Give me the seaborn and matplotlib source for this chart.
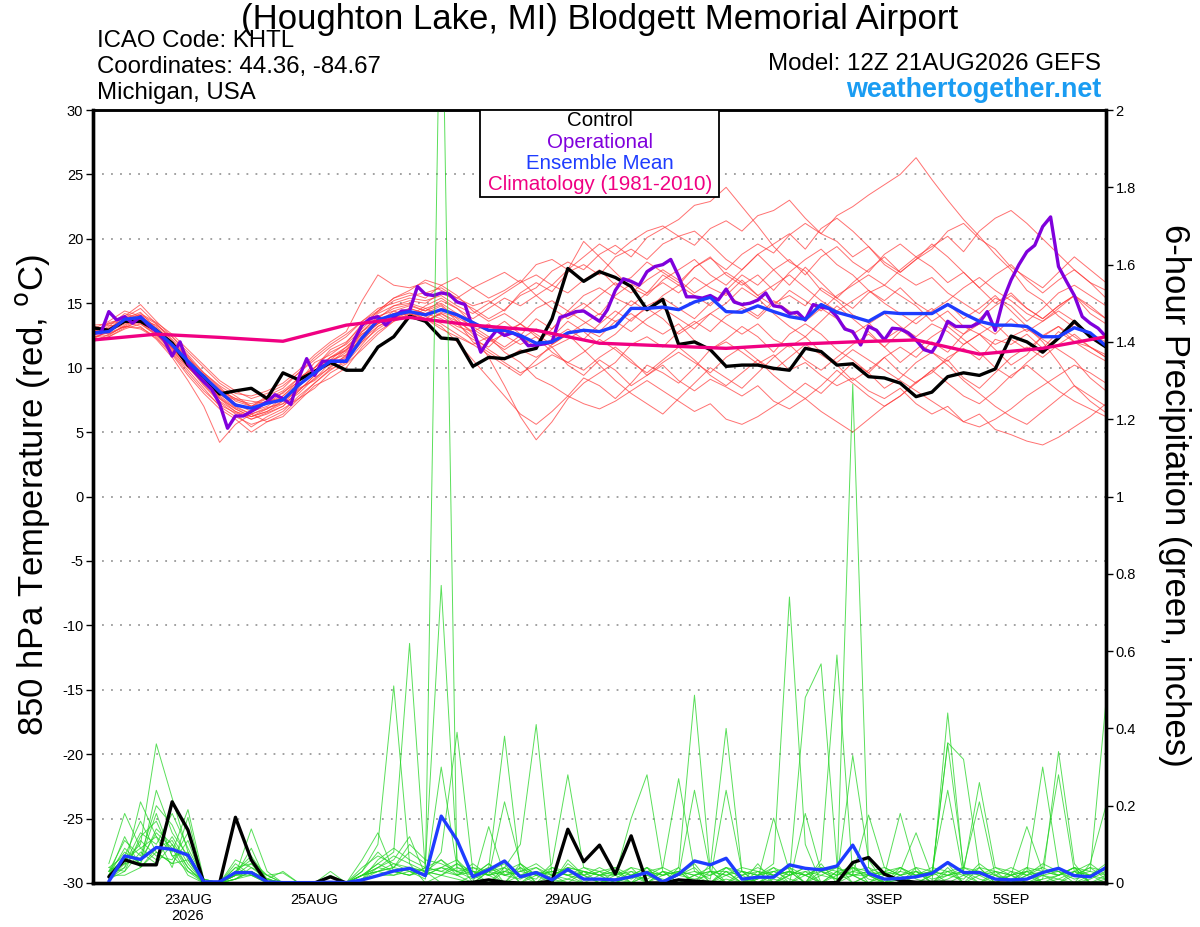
import numpy as np
import pandas as pd
import matplotlib
matplotlib.use("Agg")
import matplotlib.pyplot as plt
import seaborn as sns
from matplotlib.patches import Rectangle

# ---------------- data ----------------
title = "(Houghton Lake, MI) Blodgett Memorial Airport"
info_left = ["ICAO Code: KHTL", "Coordinates: 44.36, -84.67", "Michigan, USA"]
model_text = "Model: 12Z 21AUG2026 GEFS"
site_text = "weathertogether.net"

temp_start = "2026-08-21 12:00"   # 6-hourly temperature
op_start = "2026-08-21 12:00"     # 3-hourly operational run
precip_start = "2026-08-21 18:00" # 6-hourly precip totals
clim_start = "2026-08-21 12:00"   # daily climatology

tick_dates = ["2026-08-23", "2026-08-25", "2026-08-27", "2026-08-29",
              "2026-09-01", "2026-09-03", "2026-09-05"]
tick_labels = ["23AUG\n2026", "25AUG", "27AUG", "29AUG", "1SEP", "3SEP", "5SEP"]

control_temp = [13.1, 12.9, 13.6, 13.6, 12.9, 11.9, 10.2, 9.3, 7.96, 8.2, 8.4, 7.6, 9.6, 9.05, 9.7, 10.4,
                9.8, 9.8, 11.6, 12.4, 14.0, 13.6, 12.3, 12.2, 10.1, 10.8, 10.7, 11.2, 11.5, 13.8, 17.7,
                16.7, 17.45, 17.0, 16.3, 14.5, 15.3, 11.8, 12.0, 11.4, 10.1, 10.2, 10.2, 9.95, 9.8, 11.5,
                11.25, 10.2, 10.3, 9.3, 9.2, 8.8, 7.75, 8.1, 9.3, 9.6, 9.4, 9.9, 12.45, 12.0, 11.2, 12.3,
                13.6, 12.4, 11.6]

mean_temp = [12.7, 12.8, 13.75, 13.9, 12.9, 11.76, 10.5, 9.3, 8.14, 7.1, 6.85, 7.24, 7.5, 8.66, 9.6, 10.5,
             10.5, 12.3, 13.7, 14.1, 14.35, 14.1, 14.5, 14.1, 13.5, 12.9, 12.9, 12.5, 11.9, 12.0, 12.7,
             12.9, 12.8, 13.2, 14.6, 14.6, 14.7, 14.5, 15.1, 15.46, 14.35, 14.3, 14.8, 14.35, 13.96,
             13.75, 14.9, 14.3, 13.96, 13.6, 14.3, 14.2, 14.2, 14.2, 14.9, 14.2, 13.6, 13.3, 13.3, 13.2,
             12.4, 12.4, 13.1, 12.7, 11.7]

oper_temp = [12.7, 12.7, 14.35, 13.7, 13.96, 13.45, 13.96, 13.3, 12.8, 12.15, 10.9, 12.0, 10.3, 9.55,
             8.9, 8.3, 7.2, 5.3, 6.25, 6.25, 6.6, 6.97, 7.36, 7.9, 7.6, 7.15, 9.2, 10.7, 9.4, 10.5, 10.5,
             10.5, 10.5, 12.15, 13.3, 13.8, 13.96, 13.3, 13.9, 14.4, 14.4, 16.3, 15.7, 15.6, 15.8, 15.7,
             15.1, 14.9, 13.06, 11.2, 12.15, 12.9, 12.5, 12.7, 12.4, 11.7, 11.76, 11.84, 12.0, 13.9, 14.1,
             14.35, 14.4, 14.0, 13.6, 14.5, 16.0, 16.9, 16.7, 16.4, 17.45, 17.85, 18.0, 18.4, 17.1, 15.5,
             15.5, 15.4, 15.6, 15.25, 16.1, 15.1, 14.9, 15.0, 15.25, 15.8, 14.8, 14.7, 14.2, 14.3, 13.7,
             14.9, 14.7, 14.6, 13.96, 13.0, 12.8, 11.76, 13.2, 12.9, 12.15, 13.06, 13.0, 12.7, 12.15,
             11.4, 11.2, 12.15, 13.6, 13.2, 13.2, 13.2, 13.5, 14.35, 12.9, 15.25, 16.8, 18.0, 19.0, 19.5,
             20.95, 21.7, 17.85, 16.7, 15.6, 13.96, 13.45, 13.06, 12.4]

clim_temp = [12.15, 12.6, 12.35, 12.05, 13.3, 13.9, 13.3, 12.9, 11.9, 11.7, 11.5, 11.8, 12.0, 12.15,
             11.05, 11.5, 12.4]

# ensemble members, 850 hPa temperature (deg C), 6-hourly
mem01 = [12.5, 13.0, 13.5, 14.0, 13.2, 12.0, 10.8, 9.6, 8.5, 7.4, 7.0, 7.6, 8.0, 9.2, 10.0, 11.2, 11.8, 13.0, 14.2, 14.8, 15.2,
         15.0, 15.8, 15.2, 14.6, 13.8, 14.5, 15.6, 16.2, 17.5, 18.2, 17.6, 18.8, 19.5, 18.6, 20.1, 20.8, 21.5, 22.6, 22.9, 24.0,
         22.5, 21.0, 19.4, 18.2, 17.5, 16.0, 15.2, 14.1, 13.5, 12.2, 13.0, 12.0, 11.2, 10.5, 11.8, 12.6, 11.4, 10.2, 11.0, 12.5, 13.2, 12.0, 11.2, 10.5]
mem02 = [13.0, 12.6, 13.2, 13.8, 13.0, 11.5, 10.2, 9.0, 7.8, 6.9, 6.4, 6.8, 7.4, 8.5, 9.8, 10.8, 11.3, 12.6, 13.5, 14.4, 14.0,
         13.6, 14.3, 13.9, 13.2, 12.4, 11.6, 12.5, 13.8, 13.0, 14.2, 15.0, 14.1, 15.6, 16.5, 15.8, 17.2, 16.4, 17.8, 18.5, 17.6,
         18.8, 19.6, 18.9, 20.3, 21.2, 20.4, 21.8, 22.5, 23.4, 24.2, 25.0, 26.3, 24.6, 23.0, 21.5, 20.2, 18.8, 17.6, 16.0, 15.2, 14.0, 13.1, 12.5, 11.8]
mem03 = [12.2, 12.9, 13.6, 13.5, 12.6, 11.2, 9.8, 8.4, 7.0, 6.2, 5.6, 6.0, 6.6, 7.8, 8.8, 9.9, 10.4, 11.8, 13.2, 13.8, 14.6,
         14.2, 14.8, 13.6, 12.0, 11.2, 10.4, 9.6, 10.2, 11.0, 10.4, 9.8, 10.8, 11.6, 10.6, 9.4, 10.2, 9.0, 8.2, 9.1, 8.5,
         7.8, 8.6, 7.4, 6.8, 7.6, 6.6, 5.8, 5.0, 6.0, 7.0, 7.8, 8.9, 9.6, 10.8, 11.5, 10.6, 12.2, 11.8, 12.6, 11.5, 12.8, 12.0, 11.6, 10.8]
mem04 = [12.6, 13.2, 14.2, 13.8, 13.1, 11.8, 10.4, 9.1, 8.0, 7.0, 6.4, 6.9, 7.2, 8.4, 9.0, 10.1, 10.8, 12.4, 13.4, 14.0, 13.8,
         14.6, 14.0, 13.2, 12.8, 13.4, 12.5, 11.8, 12.4, 11.6, 12.2, 13.0, 12.4, 13.6, 14.2, 13.3, 12.6, 13.4, 12.1, 11.4, 12.0,
         11.2, 10.3, 11.0, 9.8, 10.4, 9.4, 8.6, 9.2, 8.2, 7.6, 8.4, 7.2, 6.4, 7.0, 5.8, 6.4, 5.2, 4.8, 4.3, 4.0, 4.6, 5.4, 6.2, 7.2]
mem05 = [12.4, 12.5, 13.3, 13.9, 12.7, 11.9, 10.6, 9.4, 8.3, 7.6, 7.4, 7.2, 8.1, 8.9, 10.4, 11.0, 11.9, 13.4, 14.3, 15.2, 15.6,
         15.8, 16.2, 15.4, 14.8, 15.2, 14.4, 15.8, 16.6, 15.9, 17.4, 18.0, 17.2, 18.6, 19.2, 18.4, 19.6, 20.2, 19.5, 20.8, 21.4,
         20.6, 21.8, 22.2, 23.0, 21.6, 20.4, 19.8, 18.6, 19.4, 18.0, 17.2, 16.4, 17.0, 15.8, 15.0, 14.2, 15.4, 14.8, 13.6, 14.6, 15.8, 16.4, 15.6, 14.8]
mem06 = [13.1, 12.7, 13.9, 14.1, 13.4, 12.2, 10.9, 9.2, 7.6, 6.6, 6.0, 6.5, 7.0, 8.2, 9.4, 10.6, 11.0, 12.8, 13.9, 14.6, 14.9,
         14.4, 14.9, 13.8, 12.6, 10.8, 8.6, 6.2, 4.4, 5.8, 7.6, 8.8, 9.6, 10.4, 11.8, 12.4, 11.6, 12.8, 13.6, 12.8, 14.0,
         14.6, 13.8, 15.0, 15.6, 14.8, 16.2, 15.4, 14.6, 15.8, 16.4, 15.6, 14.8, 13.6, 14.4, 13.2, 12.6, 11.8, 12.4, 13.0, 12.2, 11.4, 10.6, 9.2, 8.2]
mem07 = [12.8, 13.4, 13.6, 13.2, 12.2, 10.8, 9.0, 7.0, 4.2, 5.6, 6.4, 5.8, 6.2, 7.4, 8.6, 9.2, 10.0, 11.6, 12.8, 13.6, 14.2,
         13.8, 14.6, 14.2, 13.6, 12.8, 13.6, 12.6, 11.8, 13.0, 14.4, 13.6, 12.8, 14.0, 15.2, 14.4, 15.6, 16.4, 15.6, 14.8, 16.0,
         17.2, 16.4, 17.6, 18.4, 17.2, 18.6, 19.4, 18.2, 17.4, 18.8, 19.6, 18.6, 17.8, 16.6, 17.4, 16.2, 15.0, 15.8, 14.6, 13.8, 14.8, 15.6, 14.2, 13.4]
mem08 = [12.3, 12.8, 13.4, 13.6, 12.8, 11.4, 10.0, 8.8, 7.9, 7.2, 6.6, 7.0, 7.8, 8.8, 9.6, 10.8, 11.6, 12.6, 13.4, 14.2, 14.4,
         14.0, 13.4, 12.6, 11.8, 12.4, 11.2, 10.4, 9.2, 8.6, 7.8, 7.2, 6.8, 7.4, 8.2, 9.0, 8.2, 7.4, 6.6, 7.2, 6.0,
         5.6, 6.2, 7.0, 7.8, 8.8, 8.0, 9.2, 10.4, 9.6, 10.8, 11.6, 10.8, 12.0, 11.2, 12.6, 13.4, 12.6, 13.8, 12.8, 13.6, 14.4, 13.6, 12.6, 12.0]
mem09 = [13.2, 13.0, 14.0, 14.9, 13.6, 12.4, 11.2, 10.0, 8.8, 8.0, 7.8, 8.2, 8.8, 9.8, 11.0, 12.0, 12.8, 15.2, 17.2, 16.4, 16.2,
         16.6, 16.0, 15.4, 16.2, 16.8, 17.4, 16.6, 18.0, 18.4, 17.6, 19.8, 18.6, 17.4, 16.2, 15.6, 16.8, 17.6, 18.4, 17.2, 16.4,
         17.6, 18.8, 19.6, 20.4, 19.2, 20.8, 21.6, 20.6, 19.4, 18.2, 17.4, 18.4, 19.2, 20.6, 21.2, 20.0, 19.2, 17.8, 17.0, 16.2, 17.4, 18.6, 17.6, 16.6]
mem10 = [12.9, 13.3, 13.1, 13.7, 13.3, 12.4, 11.0, 9.6, 8.6, 7.8, 7.0, 7.4, 7.6, 8.6, 9.8, 10.2, 10.9, 12.0, 13.6, 14.2, 14.6,
         14.2, 13.8, 13.0, 12.2, 11.6, 12.8, 13.4, 12.6, 11.8, 12.6, 13.4, 14.2, 13.6, 12.8, 13.8, 14.6, 13.8, 13.0, 14.2, 13.4,
         12.6, 13.4, 12.2, 11.6, 12.4, 11.2, 10.4, 11.4, 10.6, 9.8, 9.0, 8.2, 7.4, 6.6, 5.8, 5.4, 6.0, 6.8, 7.8, 8.6, 9.4, 10.2, 9.6, 8.8]
mem11 = [12.1, 12.4, 13.0, 13.4, 12.5, 11.6, 10.3, 9.0, 7.7, 6.8, 6.2, 6.6, 7.4, 8.3, 9.1, 10.4, 11.2, 12.2, 13.2, 13.9, 14.0,
         14.8, 15.4, 14.6, 13.8, 14.6, 15.4, 14.8, 15.6, 16.4, 15.8, 16.8, 17.6, 16.4, 17.0, 18.2, 17.4, 16.6, 17.8, 18.6, 17.2,
         16.4, 17.2, 16.0, 17.4, 18.4, 19.2, 18.0, 17.2, 16.0, 15.2, 16.2, 15.0, 14.2, 15.0, 13.8, 14.6, 15.6, 14.4, 13.2, 12.0, 10.4, 8.6, 7.4, 6.5]
mem12 = [12.7, 13.5, 13.8, 13.6, 12.9, 11.7, 10.1, 8.6, 7.3, 6.4, 5.4, 6.2, 6.8, 7.6, 8.4, 9.6, 10.3, 11.4, 12.6, 13.6, 14.0,
         13.6, 14.2, 13.4, 12.4, 11.4, 10.6, 11.4, 10.8, 11.6, 10.2, 9.4, 10.6, 9.8, 8.6, 9.4, 10.4, 11.2, 10.4, 9.6, 10.8,
         11.6, 10.6, 9.8, 10.8, 11.8, 11.0, 10.2, 9.0, 9.8, 10.8, 9.6, 8.8, 9.8, 10.6, 9.2, 8.4, 9.6, 10.8, 11.6, 10.8, 11.8, 12.6, 11.6, 10.8]
mem13 = [13.0, 12.9, 13.5, 14.2, 13.5, 12.6, 11.4, 10.2, 9.0, 8.2, 7.6, 8.0, 8.6, 9.6, 10.6, 11.6, 12.4, 13.6, 14.6, 15.0, 15.4,
         15.2, 15.6, 14.8, 14.2, 15.0, 15.8, 16.6, 17.2, 16.4, 17.6, 18.6, 19.6, 18.8, 19.8, 20.6, 21.0, 20.2, 20.6, 19.6, 18.4,
         17.6, 18.8, 17.6, 16.4, 17.8, 16.6, 15.4, 16.6, 17.6, 18.6, 17.4, 18.4, 19.6, 18.6, 17.4, 16.2, 17.2, 18.0, 16.8, 15.8, 16.8, 17.6, 16.6, 15.4]
mem14 = [12.5, 13.1, 13.7, 13.4, 12.6, 11.3, 10.0, 8.9, 8.0, 7.5, 7.2, 7.6, 8.2, 9.2, 10.0, 10.8, 11.4, 12.8, 14.0, 14.4, 14.8,
         14.4, 15.2, 14.6, 13.4, 12.8, 13.2, 12.4, 11.6, 12.2, 13.0, 12.2, 13.4, 14.4, 13.6, 14.8, 15.4, 14.6, 13.8, 15.0, 15.8,
         14.8, 14.0, 15.2, 14.4, 13.6, 14.6, 13.8, 12.6, 13.4, 14.2, 13.2, 12.4, 13.4, 12.8, 11.8, 12.6, 13.4, 12.2, 11.4, 12.4, 13.2, 12.4, 11.6, 11.0]
mem15 = [12.0, 12.6, 13.2, 13.0, 12.3, 11.0, 9.4, 8.0, 6.8, 6.0, 5.0, 5.8, 6.4, 7.6, 8.8, 9.8, 10.6, 12.0, 13.0, 13.8, 14.3,
         13.8, 13.2, 12.0, 10.6, 9.2, 7.8, 6.4, 5.6, 6.6, 7.8, 9.2, 8.6, 7.6, 8.8, 10.2, 9.6, 8.8, 10.0, 11.4, 12.2,
         13.2, 12.4, 11.2, 12.6, 13.4, 12.6, 11.4, 10.6, 9.6, 8.4, 9.2, 10.4, 11.2, 10.2, 9.0, 8.0, 7.0, 6.2, 5.6, 6.6, 7.6, 8.6, 7.8, 7.0]
mem16 = [13.3, 13.4, 13.9, 14.6, 13.4, 12.1, 10.7, 9.5, 8.4, 7.2, 6.8, 7.3, 7.8, 9.0, 10.0, 11.4, 12.0, 13.2, 14.4, 15.4, 15.8,
         15.4, 16.4, 15.6, 14.4, 13.6, 14.2, 13.4, 14.6, 15.2, 14.4, 15.6, 16.2, 15.4, 14.8, 15.8, 16.6, 15.8, 17.0, 16.2, 15.6,
         16.8, 15.6, 14.8, 16.0, 15.2, 14.4, 15.6, 16.4, 17.2, 16.4, 17.6, 18.6, 19.4, 20.2, 19.0, 20.6, 21.6, 22.2, 21.2, 20.0, 18.8, 17.6, 16.6, 16.0]
mem17 = [12.6, 13.0, 13.8, 14.3, 13.0, 11.6, 10.4, 9.0, 7.6, 6.8, 6.2, 6.6, 7.2, 8.0, 9.2, 10.0, 11.0, 12.4, 13.8, 14.8, 15.0,
         14.6, 15.0, 14.2, 13.0, 12.2, 11.4, 12.2, 13.0, 12.4, 13.6, 12.8, 11.8, 12.6, 13.8, 14.6, 13.8, 12.6, 13.4, 14.2, 15.0,
         16.2, 15.4, 14.2, 13.2, 12.4, 13.6, 14.8, 13.8, 12.8, 11.6, 12.8, 13.8, 14.6, 13.4, 12.6, 13.8, 14.8, 15.6, 14.6, 13.8, 14.8, 15.6, 14.6, 13.8]
mem18 = [12.4, 12.7, 13.2, 13.1, 12.4, 11.1, 9.6, 8.2, 7.1, 6.5, 6.0, 6.4, 7.0, 8.2, 9.4, 10.6, 11.6, 12.8, 13.6, 14.2, 14.4,
         13.8, 13.0, 12.4, 11.8, 11.0, 10.2, 9.4, 10.6, 11.8, 12.6, 11.4, 10.2, 9.0, 8.0, 7.2, 6.4, 7.6, 8.8, 10.0, 9.2,
         8.4, 9.6, 10.8, 11.8, 10.6, 9.8, 10.8, 11.8, 12.6, 11.6, 10.4, 11.4, 12.4, 13.2, 12.2, 11.2, 10.0, 9.2, 10.4, 11.4, 12.4, 13.4, 12.6, 11.6]
mem19 = [13.0, 13.6, 14.4, 14.0, 13.0, 11.9, 10.5, 9.3, 8.2, 7.6, 7.0, 7.8, 8.4, 9.6, 10.8, 11.8, 12.6, 13.6, 14.4, 15.4, 16.0,
         16.8, 16.4, 17.0, 16.2, 15.4, 16.0, 16.8, 15.6, 14.6, 13.8, 14.6, 15.6, 16.6, 15.8, 16.8, 17.6, 16.8, 15.8, 16.6, 17.4,
         16.6, 15.6, 16.4, 17.2, 16.2, 15.2, 14.4, 15.2, 16.0, 15.0, 14.2, 13.4, 14.4, 15.2, 16.2, 17.0, 16.0, 15.2, 14.2, 13.6, 14.6, 15.6, 14.8, 13.8]
mem20 = [12.2, 12.4, 13.1, 13.6, 12.9, 11.5, 10.2, 8.7, 7.4, 6.6, 6.2, 6.8, 7.6, 8.6, 9.6, 10.4, 11.4, 12.4, 13.4, 14.0, 14.2,
         13.6, 14.2, 13.6, 12.8, 12.0, 12.6, 13.4, 12.4, 11.2, 10.4, 11.2, 12.2, 11.4, 10.4, 9.6, 10.6, 11.6, 10.6, 9.4, 8.6,
         9.6, 10.6, 9.4, 8.4, 7.6, 8.6, 9.8, 8.8, 7.8, 7.0, 7.8, 8.8, 9.8, 8.8, 7.8, 7.2, 8.2, 9.4, 10.2, 9.2, 8.2, 7.4, 6.8, 6.2]

# 6-hour precipitation (inches)
control_precip = [0.016, 0.06, 0.047, 0.047, 0.21, 0.137, 0, 0, 0.17, 0.06, 0, 0, 0, 0, 0.016, 0,
                  0, 0, 0, 0, 0, 0, 0, 0.002, 0.008, 0.002, 0, 0, 0.005, 0.139, 0.055, 0.098,
                  0.023, 0.122, 0, 0, 0.008, 0.005, 0.002, 0, 0, 0, 0, 0, 0, 0, 0.001, 0.053,
                  0.066, 0.023, 0.006, 0.002, 0.002, 0.002, 0.001, 0, 0, 0, 0, 0, 0, 0, 0, 0]
mean_precip = [0.004, 0.07, 0.061, 0.092, 0.087, 0.072, 0.003, 0.003, 0.027, 0.027, 0.003, 0.001, 0.001,
               0.001, 0.002, 0.001, 0.008, 0.019, 0.031, 0.038, 0.019, 0.173, 0.111, 0.016, 0.034, 0.057,
               0.016, 0.027, 0.008, 0.035, 0.01, 0.01, 0.008, 0.016, 0.027, 0.003, 0.023, 0.057, 0.047,
               0.064, 0.01, 0.015, 0.015, 0.047, 0.038, 0.034, 0.044, 0.098, 0.025, 0.01, 0.012, 0.016,
               0.025, 0.053, 0.027, 0.027, 0.01, 0.008, 0.01, 0.027, 0.038, 0.019, 0.016, 0.04]

pm01 = [.02, .06, .10, .36, .22, .08, 0, 0, .04, .02, 0, 0, 0, 0, 0, 0, .03, .10, .51, .05, 0, .02, .01, 0,
        .03, 0, .05, 0, .02, 0, 0, 0, .01, 0, 0, .03, 0, 0, .05, 0, 0, .02, .05, .74, .10, 0, .02, .05,
        0, 0, .01, 0, 0, .03, 0, 0, .02, 0, 0, .01, .34, .05, 0, .02]
pm02 = [.01, .04, .21, .12, .08, .19, .01, 0, .02, .14, .03, 0, 0, 0, 0, 0, .02, .05, .08, .62, .03, 0, 0, .02,
        0, .04, 0, .03, 0, .01, 0, .02, 0, 0, .04, 0, .03, 0, 0, .04, .01, 0, 0, .02, .48, .567, .05, 0,
        .02, 0, 0, .04, 0, .01, .03, 0, 0, .02, 0, 0, .02, .04, 0, .01]
pm03 = [.03, .08, .05, .14, .10, .04, 0, 0, .01, .03, 0, 0, 0, 0, 0, 0, .01, .04, .06, .12, .02, 2.5, .02, .05,
        .02, 0, .04, 0, 0, .06, .02, 0, 0, .03, 0, 0, .02, .05, 0, 0, .03, 0, .01, 0, .03, 0, 0, .04,
        .01, 0, 0, .02, .03, 0, 0, .04, 0, 0, .02, 0, 0, .03, 0, 0]
pm04 = [.05, .18, .09, .06, .12, .05, 0, 0, .06, .04, .01, .03, 0, 0, 0, 0, .02, .03, .04, .08, .05, .77, .06, 0,
        .03, .05, 0, .02, 0, .04, 0, 0, .03, 0, .02, 0, .04, 0, 0, .02, 0, .05, 0, .03, 0, .06, .59, .02,
        0, .03, 0, 0, .02, .05, 0, 0, .03, 0, .04, 0, .01, 0, .05, .02]
pm05 = [.02, .07, .16, .08, .05, .11, 0, 0, .03, .06, .02, 0, 0, 0, .03, 0, .04, .07, .05, .03, .01, .30, .04, .02,
        .05, 0, .02, .04, .01, 0, .03, 0, 0, .02, 0, .03, 0, .02, .03, 0, 0, .01, .04, 0, .02, 0, 0, 1.29,
        .04, 0, 0, .03, 0, 0, .02, 0, 0, .03, 0, .02, 0, 0, .02, 0]
pm06 = [.04, .03, .12, .16, .07, .03, .01, 0, .02, .09, 0, 0, 0, 0, 0, 0, .06, .13, .03, .04, .02, .08, .39, .03,
        0, .03, .02, 0, .04, .02, 0, 0, .02, 0, 0, .02, .03, 0, 0, .03, 0, 0, .02, .04, 0, .03, .01, .33,
        .06, 0, .02, 0, 0, .04, 0, .02, 0, 0, .03, 0, 0, .02, .04, .01]
pm07 = [.03, .11, .07, .20, .15, .06, 0, 0, .05, .02, .01, 0, 0, 0, 0, 0, .02, .04, .07, .05, .03, .04, .02, 0,
        .146, .02, .01, .03, 0, .05, .02, 0, .01, .04, 0, 0, .02, .04, 0, .01, 0, .03, 0, .02, .04, 0, .03, 0,
        .02, 0, .04, .01, 0, .44, .03, .01, 0, 0, .02, .05, .03, 0, .01, .03]
pm08 = [.01, .05, .13, .10, .18, .09, .01, 0, .04, .05, .02, .026, 0, 0, 0, 0, .01, .06, .09, .06, .04, .03, .05, .02,
        .04, .38, .03, .05, .02, .01, .03, .02, 0, .02, .04, 0, .01, 0, .03, 0, .02, 0, .03, .01, 0, .05, 0, .02,
        .03, 0, .01, 0, .02, .363, .32, .04, 0, .02, 0, .01, .02, .04, 0, 0]
pm09 = [.02, .09, .05, .24, .13, .07, 0, 0, .02, .03, 0, 0, 0, 0, .02, 0, .03, .08, .04, .10, .06, .05, .03, .04,
        .02, .21, .05, .02, .03, .02, .01, .03, 0, .02, .01, .03, .02, .03, .01, .24, .03, 0, .02, 0, .18, .03, .01, .02,
        0, .02, .18, .03, 0, .02, .01, .05, .02, 0, .01, .02, .03, .01, .02, .05]
pm10 = [.03, .06, .09, .12, .04, .17, 0, 0, .01, .04, .02, 0, 0, 0, 0, 0, .02, .05, .03, .02, .04, .06, .03, .01,
        .03, .04, .10, .41, .02, .04, .03, .02, .04, 0, .02, .01, 0, .02, .03, .03, 0, .01, .168, .03, .02, 0, .03, .04,
        .02, 0, .03, .13, .02, .03, .04, .21, .02, .01, .03, .02, .01, .03, .05, .20]
pm11 = [.02, .12, .04, .09, .11, .04, 0, 0, .03, .07, .01, 0, 0, 0, 0, 0, .02, .03, .05, .04, .03, .06, .02, .03,
        .02, .03, .02, .01, .05, .28, .04, .02, .03, .01, .03, .02, .03, .02, 0, .03, .02, .04, .02, .03, 0, .02, .04, .02,
        .176, .04, .02, .03, .01, .02, .03, .26, .04, .02, .146, .03, .02, .04, .02, .01]
pm12 = [.04, .07, .06, .13, .09, .02, 0, 0, .02, .03, .01, 0, 0, 0, 0, 0, .01, .02, .02, .03, .02, .04, .06, .02,
        .05, .02, .03, .04, .02, .03, .02, .04, .02, .167, .28, .03, .02, .01, .02, .04, .03, .02, .04, .02, .03, .02, .01, .03,
        .02, .03, .02, .04, .03, .24, .02, .03, .01, .02, .03, .30, .04, .02, .03, .02]
pm13 = [.02, .04, .11, .07, .06, .13, 0, 0, .02, .02, 0, 0, 0, 0, 0, 0, .02, .04, .03, .02, .04, .03, .02, .04,
        .03, .02, .04, .02, .03, .02, .04, .03, .02, .03, .02, .04, .27, .03, .02, .04, .02, .03, .02, .03, .02, .04, .02, .03,
        .04, .02, .03, .02, .04, .03, .02, .04, .03, .02, .03, .04, .28, .03, .02, .04]
pm14 = [.01, .03, .08, .05, .10, .03, 0, 0, .01, .02, .01, 0, 0, 0, 0, 0, .01, .03, .02, .04, .03, .02, .05, .03,
        .02, .03, .05, .02, .03, .02, .03, .02, .02, .04, .03, .02, .04, .486, .03, .02, .03, .02, .03, .02, .04, .03, .02, .04,
        .03, .02, .04, .02, .03, .02, .04, .03, .02, .04, .02, .03, .02, .04, .03, .47]
pm15 = [.03, .05, .06, .18, .07, .08, 0, 0, .02, .05, 0, 0, 0, 0, 0, 0, .02, .03, .04, .03, .02, .04, .03, .02,
        .04, .02, .03, .02, .04, .03, .02, .03, .04, .02, .03, .04, .02, .24, .03, .02, .04, .03, .02, .03, .02, .04, .03, .02,
        .03, .04, .02, .03, .02, .36, .04, .02, .03, .02, .04, .03, .03, .02, .04, .03]
pm16 = [.02, .02, .04, .08, .05, .06, 0, 0, .01, .03, .01, 0, 0, 0, 0, 0, .01, .02, .03, .02, .03, .02, .04, .03,
        .02, .04, .02, .03, .02, .04, .03, .02, .03, .02, .04, .02, .03, .02, .04, .40, .03, .02, .03, .04, .02, .03, .04, .02,
        .02, .03, .04, .02, .03, .02, .03, .02, .04, .03, .02, .04, .02, .03, .02, .04]

temp_members = [mem01, mem02, mem03, mem04, mem05, mem06, mem07, mem08, mem09, mem10,
                mem11, mem12, mem13, mem14, mem15, mem16, mem17, mem18, mem19, mem20]
precip_members = [pm01, pm02, pm03, pm04, pm05, pm06, pm07, pm08,
                  pm09, pm10, pm11, pm12, pm13, pm14, pm15, pm16]

# ---------------- build tables ----------------
t_times = pd.date_range(temp_start, periods=len(control_temp), freq="6h")
op_times = pd.date_range(op_start, periods=len(oper_temp), freq="3h")
p_times = pd.date_range(precip_start, periods=len(control_precip), freq="6h")
c_times = pd.date_range(clim_start, periods=len(clim_temp), freq="24h")

temp_long = pd.DataFrame({
    "time": np.concatenate([t_times] * len(temp_members)),
    "member": np.repeat(np.arange(len(temp_members)), len(t_times)),
    "temp": np.concatenate(temp_members),
})
precip_long = pd.DataFrame({
    "time": np.concatenate([p_times] * len(precip_members)),
    "member": np.repeat(np.arange(len(precip_members)), len(p_times)),
    "precip": np.concatenate(precip_members),
})

# ---------------- style ----------------
sns.set_style("white")
plt.rcParams["font.family"] = ["Liberation Sans", "DejaVu Sans"]
plt.rcParams["axes.unicode_minus"] = False
plt.rcParams["text.color"] = "black"
plt.rcParams["axes.labelcolor"] = "black"
plt.rcParams["xtick.color"] = "black"
plt.rcParams["ytick.color"] = "black"

RED = "#ff3a3a"
GREEN = "#22d422"
PURPLE = "#8000dc"
BLUE = "#1e3cff"
PINK = "#f00082"
SITE = "#1a9cf2"

W, H = 1200, 927
fig = plt.figure(figsize=(W / 100, H / 100), dpi=100)
ax = fig.add_axes([93 / W, 1 - 883 / H, (1106 - 93) / W, (883 - 110) / H])
ax2 = ax.twinx()

# temperature
sns.lineplot(data=temp_long, x="time", y="temp", units="member", estimator=None,
             color=RED, lw=0.7, alpha=0.72, ax=ax, legend=False)
sns.lineplot(x=t_times, y=control_temp, color="black", lw=2.4, ax=ax)
sns.lineplot(x=op_times, y=oper_temp, color=PURPLE, lw=2.4, ax=ax)
sns.lineplot(x=t_times, y=mean_temp, color=BLUE, lw=2.4, ax=ax)
sns.lineplot(x=c_times, y=clim_temp, color=PINK, lw=2.4, ax=ax)

# precipitation
sns.lineplot(data=precip_long, x="time", y="precip", units="member", estimator=None,
             color=GREEN, lw=0.7, alpha=0.75, ax=ax2, legend=False)
sns.lineplot(x=p_times, y=control_precip, color="black", lw=2.4, ax=ax2)
sns.lineplot(x=p_times, y=mean_precip, color=BLUE, lw=2.4, ax=ax2)

# axes limits / ticks
xmin, xmax = pd.Timestamp("2026-08-21 12:00"), pd.Timestamp("2026-09-06 12:00")
ax.set_xlim(xmin, xmax)
ax.set_ylim(-30, 30)
ax2.set_ylim(0, 2)

tticks = list(range(-30, 31, 5))
ax.set_yticks(tticks)
ax.set_yticklabels([str(v) for v in tticks])
pticks = [round(0.2 * k, 1) for k in range(11)]
ax2.set_yticks(pticks)
ax2.set_yticklabels([f"{v:g}" for v in pticks])

ax.set_xticks([pd.Timestamp(d) for d in tick_dates])
ax.set_xticklabels(tick_labels, ha="center")

ax.set_xlabel("")
ax.set_ylabel("")
ax2.set_ylabel("")

ax.tick_params(axis="y", direction="out", length=5, width=1, labelsize=10.5, pad=2, colors="black")
ax.tick_params(axis="x", direction="out", length=5, width=1, labelsize=10.5, pad=2, colors="black")
ax2.tick_params(axis="y", direction="out", length=5, width=1, labelsize=10.5, pad=2, colors="black")

ax.yaxis.grid(True, linestyle=(0, (1, 4)), color="#9a9a9a", lw=1.3)
ax.xaxis.grid(False)
ax.set_axisbelow(True)

for a in (ax, ax2):
    for side in ("left", "right", "bottom"):
        a.spines[side].set_visible(True)
        a.spines[side].set_color("black")
        a.spines[side].set_linewidth(2.4)
    a.spines["top"].set_visible(True)
    a.spines["top"].set_color("black")
    a.spines["top"].set_linewidth(1.8)

# legend box
ax2.add_patch(Rectangle((0.382, 0.8875), 0.236, 0.1125, transform=ax2.transAxes,
                        facecolor="white", edgecolor="black", lw=1.3, zorder=20))
leg_items = [("Control", "black"), ("Operational", PURPLE),
             ("Ensemble Mean", BLUE), ("Climatology (1981-2010)", PINK)]
leg_y = [0.9858, 0.9586, 0.9314, 0.9030]
for (txt, col), yy in zip(leg_items, leg_y):
    ax2.text(0.5005, yy, txt, color=col, fontsize=14.8, ha="center", va="center",
             transform=ax2.transAxes, zorder=21)

# header texts
fig.text(0.5, 1 - 19 / H, title, fontsize=25, ha="center", va="center", color="black")
for k, s in enumerate(info_left):
    fig.text(97 / W, 1 - (41 + 26 * k) / H, s, fontsize=17.3, ha="left", va="center", color="black")
fig.text(1101 / W, 1 - 64 / H, model_text, fontsize=17.4, ha="right", va="center", color="black")
fig.text(1101 / W, 1 - 90 / H, site_text, fontsize=19.4, ha="right", va="center",
         color=SITE, fontweight="bold")

# axis titles
fig.text(33 / W, 1 - 495 / H, "850 hPa Temperature (red, $^\\mathrm{o}$C)", rotation=90,
         fontsize=25, ha="center", va="center", color="black")
fig.text(1175 / W, 1 - 495 / H, "6-hour Precipitation (green, inches)", rotation=270,
         fontsize=25, ha="center", va="center", color="black")

fig.savefig("out.png", dpi=100)
